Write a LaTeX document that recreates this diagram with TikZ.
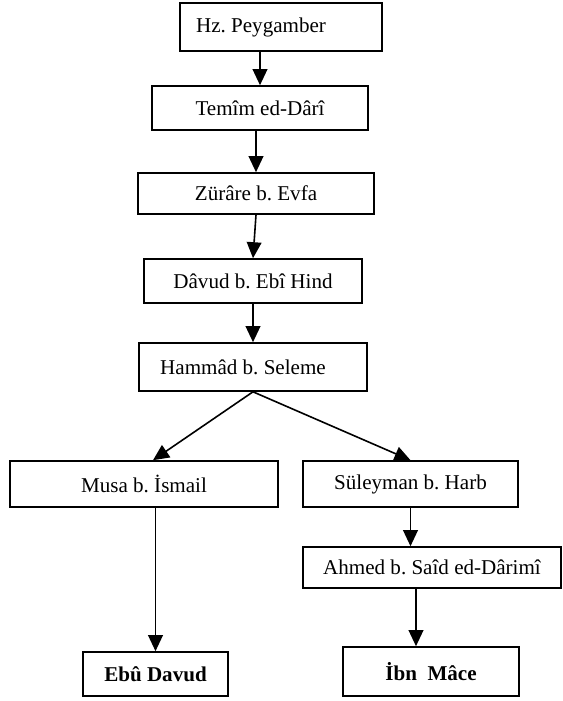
\documentclass[tikz,border=0pt]{standalone}
\usepackage{fontspec}
\setmainfont{Liberation Serif}
\usetikzlibrary{arrows.meta}
\frenchspacing

\begin{document}
\begin{tikzpicture}[x=0.75pt, y=-0.75pt,
    box/.style={draw, line width=1.2pt, inner sep=0pt, font=\fontsize{15.8}{19}\selectfont},
    arr/.style={line width=1.2pt, -{Triangle[length=12pt, width=11pt]}}]
  \useasboundingbox (0,0) rectangle (562,701);
  % chain
  \node[box, minimum width=151.5pt, minimum height=36pt] (peygamber) at (281,27) {Hz. Peygamber\hspace*{30pt}};
  \node[box, minimum width=162pt, minimum height=33pt] (temim) at (260,108) {Temîm ed-Dârî};
  \node[box, minimum width=177pt, minimum height=30.75pt] (zurare) at (256,193.5) {Zürâre b. Evfa};
  \node[box, minimum width=163.5pt, minimum height=33pt] (davud) at (253,281) {Dâvud b. Ebî Hind};
  \node[box, minimum width=171pt, minimum height=36pt] (hammad) at (253,367) {Hammâd b. Seleme\hspace*{15pt}};
  % two branches
  \node[box, minimum width=201pt, minimum height=34.5pt] (musa) at (144,484) {Musa b. İsmail};
  \node[box, minimum width=161.25pt, minimum height=34.5pt] (suleyman) at (410.5,484) {Süleyman b. Harb};
  \node[box, minimum width=193.5pt, minimum height=30.75pt] (ahmed) at (432,567.5) {Ahmed b. Saîd ed-Dârimî};
  \node[box, minimum width=108.75pt, minimum height=33pt] (ebudavud) at (155.5,674) {\bfseries Ebû Davud};
  \node[box, minimum width=132pt, minimum height=36.75pt] (ibnmace) at (431,671.5) {\bfseries İbn~~Mâce};

  \draw[arr] (peygamber.south -| temim.north) -- (temim.north);
  \draw[arr] (temim.south -| zurare.north) -- (zurare.north);
  \draw[arr] (zurare.south) -- (davud.north);
  \draw[arr] (davud.south) -- (hammad.north);
  \draw[arr] (hammad.south) -- ([xshift=6.75pt]musa.north);
  \draw[arr] (hammad.south) -- (suleyman.north);
  \draw[arr] (musa.south -| ebudavud.north) -- (ebudavud.north);
  \draw[arr] (suleyman.south) -- (suleyman.south |- ahmed.north);
  \draw[arr] ([xshift=-12pt]ahmed.south) -- ([xshift=-11.25pt]ibnmace.north);
\end{tikzpicture}
\end{document}
